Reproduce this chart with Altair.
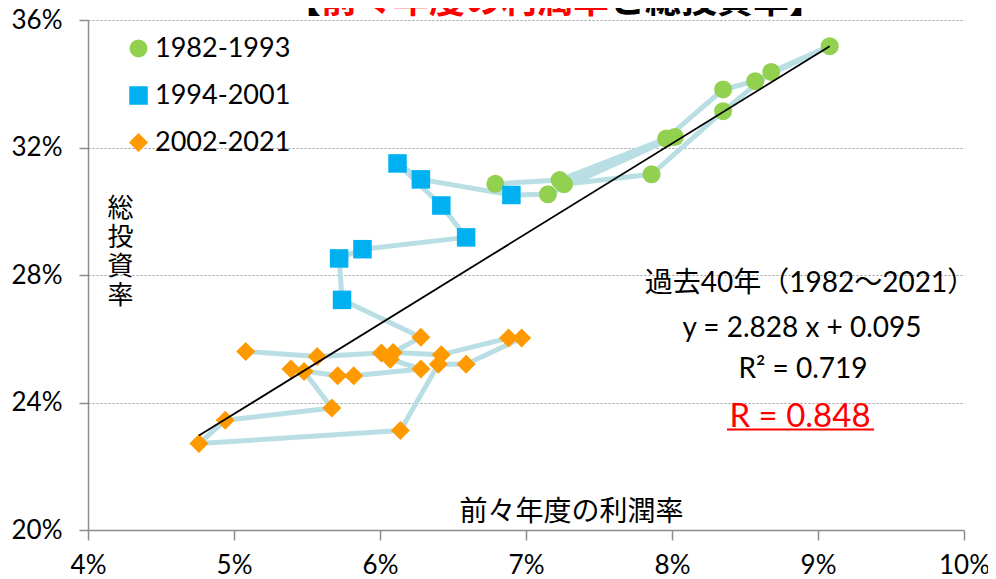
import altair as alt
import pandas as pd

# ---------------- data ----------------
years = list(range(1982, 2022))
profit_rate = [6.79, 7.23, 7.96, 8.35, 8.57, 9.08, 8.68, 8.35, 7.86, 7.26, 8.02, 7.15,
               6.90, 6.28, 6.12, 6.42, 6.59, 5.88, 5.72, 5.74,
               6.28, 6.09, 6.42, 6.88, 6.97, 6.59, 6.40, 6.14, 4.76, 4.94,
               5.67, 5.48, 5.39, 5.71, 5.82, 6.28, 6.07, 6.01, 5.57, 5.08]
invest_rate = [30.86, 30.98, 32.28, 33.82, 34.08, 35.18, 34.37, 33.14, 31.16, 30.85, 32.33, 30.53,
               30.51, 31.00, 31.50, 30.18, 29.18, 28.81, 28.52, 27.22,
               26.05, 25.57, 25.50, 26.02, 26.02, 25.20, 25.20, 23.12, 22.71, 23.44,
               23.83, 24.97, 25.05, 24.84, 24.84, 25.05, 25.36, 25.55, 25.44, 25.60]
period_names = ["1982-1993", "1994-2001", "2002-2021"]
period_last_year = [1993, 2001, 2021]

slope = 2.828
intercept = 0.095
r_squared = 0.719
r_value = 0.848

x_ticks = [4, 5, 6, 7, 8, 9, 10]
y_ticks = [20, 24, 28, 32, 36]

title_open = "【"
title_red = "前々年度の利潤率"
title_black = "と総投資率】"
x_title = "前々年度の利潤率"
y_title = ["総", "投", "資", "率"]
note_period = "過去40年（1982〜2021）"
note_eq = f"y = {slope:.3f} x + {intercept:.3f}"
note_r2 = f"R² = {r_squared:.3f}"
note_r = f"R = {r_value:.3f}"

# ---------------- styles ----------------
period_colors = ["#92D050", "#00B0F0", "#FF9900"]
period_shapes = ["circle", "square", "diamond"]
period_sizes = [324, 361, 441]
path_color = "#B9DFE4"
axis_gray = "#8C8C8C"
LATIN = 'Lato, "Noto Sans CJK JP", sans-serif'
CJK = '"Noto Sans CJK JP", sans-serif'


def period_of(y):
    for name, last in zip(period_names, period_last_year):
        if y <= last:
            return name
    return period_names[-1]


df = pd.DataFrame({
    "year": years,
    "profit": profit_rate,
    "invest": invest_rate,
    "period": [period_of(y) for y in years],
})

xmin, xmax = min(profit_rate), max(profit_rate)
trend = pd.DataFrame({
    "profit": [xmin, xmax],
    "invest": [100 * (slope * v / 100 + intercept) for v in (xmin, xmax)],
})
one_row = pd.DataFrame({"k": [0]})

x_enc = alt.X(
    "profit:Q",
    scale=alt.Scale(domain=[4, 10], nice=False, zero=False),
    axis=alt.Axis(
        values=x_ticks, labelExpr="datum.value + '%'", grid=False,
        tickSize=10, tickWidth=1.5, tickColor=axis_gray,
        domainColor=axis_gray, domainWidth=1.5,
        labelPadding=12, labelFontSize=26, labelFont=LATIN, labelColor="black",
        labelFlush=False, labelOverlap=False, labelBound=False,
        title=x_title, titleX=483, titleY=-18, titleAlign="center",
        titleBaseline="middle", titleFont=CJK, titleFontSize=28,
        titleFontWeight="normal", titleColor="black",
    ),
)
y_enc = alt.Y(
    "invest:Q",
    scale=alt.Scale(domain=[20, 36], nice=False, zero=False),
    axis=alt.Axis(
        values=y_ticks, labelExpr="datum.value + '%'",
        grid=True, gridDash=[2, 2], gridColor="#9A9A9A", gridWidth=1,
        tickSize=9, tickWidth=1.5, tickColor=axis_gray,
        domainColor=axis_gray, domainWidth=1.5,
        labelPadding=17, labelFontSize=26, labelFont=LATIN, labelColor="black",
        labelOverlap=False, labelBound=False, labelFlush=False,
        title=y_title, titleAngle=0, titleX=32, titleY=188, titleAlign="center",
        titleBaseline="middle", titleLineHeight=29, titleFont=CJK,
        titleFontSize=26, titleFontWeight="normal", titleColor="black",
    ),
)

legend_def = alt.Legend(
    title=None, orient="none", legendX=37, legendY=15, padding=0,
    labelFontSize=27, labelFont=LATIN, labelColor="black",
    symbolSize=330, symbolStrokeWidth=0, rowPadding=19, labelOffset=3,
)

path = alt.Chart(df).mark_line(
    color=path_color, strokeWidth=5, strokeJoin="round", strokeCap="round"
).encode(x=x_enc, y=y_enc, order="year:Q")

points = alt.Chart(df).mark_point(filled=True, opacity=1, strokeWidth=0).encode(
    x=x_enc, y=y_enc,
    color=alt.Color("period:N", scale=alt.Scale(domain=period_names, range=period_colors), legend=legend_def),
    shape=alt.Shape("period:N", scale=alt.Scale(domain=period_names, range=period_shapes), legend=legend_def),
    size=alt.Size("period:N", scale=alt.Scale(domain=period_names, range=period_sizes), legend=None),
    order="year:Q",
)

trend_line = alt.Chart(trend).mark_line(color="black", strokeWidth=1.8).encode(x=x_enc, y=y_enc)


def note(text, x, y, size, color="black", font=LATIN, weight="normal", align="center"):
    return alt.Chart(one_row).mark_text(
        text=text, align=align, baseline="alphabetic", font=font,
        fontSize=size, fontWeight=weight, color=color,
    ).encode(x=alt.value(x), y=alt.value(y))


title_a = note(title_open, 233, -7, 36, font=CJK, weight="bold", align="right")
title_b = note(title_red, 233, -7, 36, color="#FF0000", font=CJK, weight="bold", align="left")
title_c = note(title_black, 233 + 8 * 36, -7, 36, font=CJK, weight="bold", align="left")

n1 = note(note_period, 722, 272, 28)
n2 = note(note_eq, 714, 317, 28)
n3 = note(note_r2, 715, 358, 28)
n4 = note(note_r, 712, 406.5, 33, color="#FF0000")
underline = alt.Chart(one_row).mark_rule(color="#FF0000", strokeWidth=2).encode(
    x=alt.value(639), x2=alt.value(786), y=alt.value(409.5)
)

chart = alt.layer(
    path, points, trend_line, n1, n2, n3, n4, underline, title_a, title_b, title_c
).properties(
    width=876, height=510,
    autosize=alt.AutoSizeParams(type="none"),
    padding={"left": 80, "top": 12, "right": 24, "bottom": 49},
).configure_view(stroke=None)

chart.save("out.html", embed_options={"renderer": "svg", "actions": False})
